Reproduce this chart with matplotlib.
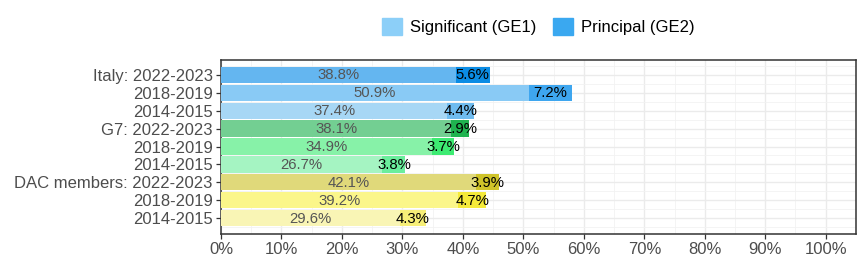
import matplotlib.pyplot as plt
import matplotlib.patches as mpatches
from matplotlib.ticker import MultipleLocator, FuncFormatter

plt.rcParams['font.family'] = ['Liberation Sans', 'DejaVu Sans']

# =======================
# Data
# =======================
labels = ["Italy: 2022-2023", "2018-2019", "2014-2015",
          "G7: 2022-2023", "2018-2019", "2014-2015",
          "DAC members: 2022-2023", "2018-2019", "2014-2015"]
ge1 = [38.8, 50.9, 37.4, 38.1, 34.9, 26.7, 42.1, 39.2, 29.6]
ge2 = [5.6, 7.2, 4.4, 2.9, 3.7, 3.8, 3.9, 4.7, 4.3]

ge1_colors = ["#64b6f0", "#89caf5", "#a7d7f5",
              "#73cf92", "#87f2a8", "#a5f4c2",
              "#e0d97a", "#fbf68a", "#f9f5b5"]
ge2_colors = ["#0b8ce4", "#3ea6ef", "#6fbcf0",
              "#1fb34f", "#3deb72", "#6aee9c",
              "#cfc42a", "#f5ea3a", "#f7ef78"]

# =======================
# Plot
# =======================
fig = plt.figure(figsize=(8.64, 2.64), dpi=100)
ax = fig.add_axes([0.2558, 0.1155, 0.9907 - 0.2558, 0.7746 - 0.1155])

pos = list(range(len(labels)))
ax.barh(pos, ge1, height=0.9, color=ge1_colors, zorder=3)
ax.barh(pos, ge2, left=ge1, height=0.9, color=ge2_colors, zorder=3)

for i in pos:
    ax.text(ge1[i] / 2, i + 0.04, f"{ge1[i]:.1f}%", ha="center", va="center",
            fontsize=10.7, color="#555555", zorder=4)
    ax.text(ge1[i] + ge2[i] / 2, i + 0.04, f"{ge2[i]:.1f}%", ha="center", va="center",
            fontsize=10.7, color="black", zorder=4)

ax.set_xlim(0, 105)
ax.set_ylim(len(labels) - 1 + 0.85, -0.85)
ax.set_yticks(pos)
ax.set_yticklabels(labels)
ax.set_yticks([p + 0.5 for p in pos[:-1]] + [-0.5, len(labels) - 0.5], minor=True)
ax.xaxis.set_major_locator(MultipleLocator(10))
ax.xaxis.set_minor_locator(MultipleLocator(5))
ax.xaxis.set_major_formatter(FuncFormatter(lambda v, p: f"{v:.0f}%"))

ax.grid(which="major", color="#ebebeb", linewidth=1.0, zorder=0)
ax.grid(which="minor", color="#f2f2f2", linewidth=0.6, zorder=0)
ax.set_axisbelow(True)

ax.tick_params(axis="both", which="major", colors="#333333",
               length=3.5, width=0.9, labelcolor="#4d4d4d", pad=2.5)
ax.tick_params(axis="y", labelsize=12)
ax.tick_params(axis="x", labelsize=12)
ax.tick_params(which="minor", length=0)
for s in ax.spines.values():
    s.set_color("#333333")
    s.set_linewidth(1.1)

handles = [mpatches.Patch(color="#8ccff8", label="Significant (GE1)"),
           mpatches.Patch(color="#3aa8f0", label="Principal (GE2)")]
fig.legend(handles=handles, loc="center", bbox_to_anchor=(0.623, 0.9),
           ncol=2, frameon=False, fontsize=12, handlelength=1.2, handleheight=1.2,
           handletextpad=0.5, columnspacing=1.0)

plt.savefig("out.png", dpi=100)
